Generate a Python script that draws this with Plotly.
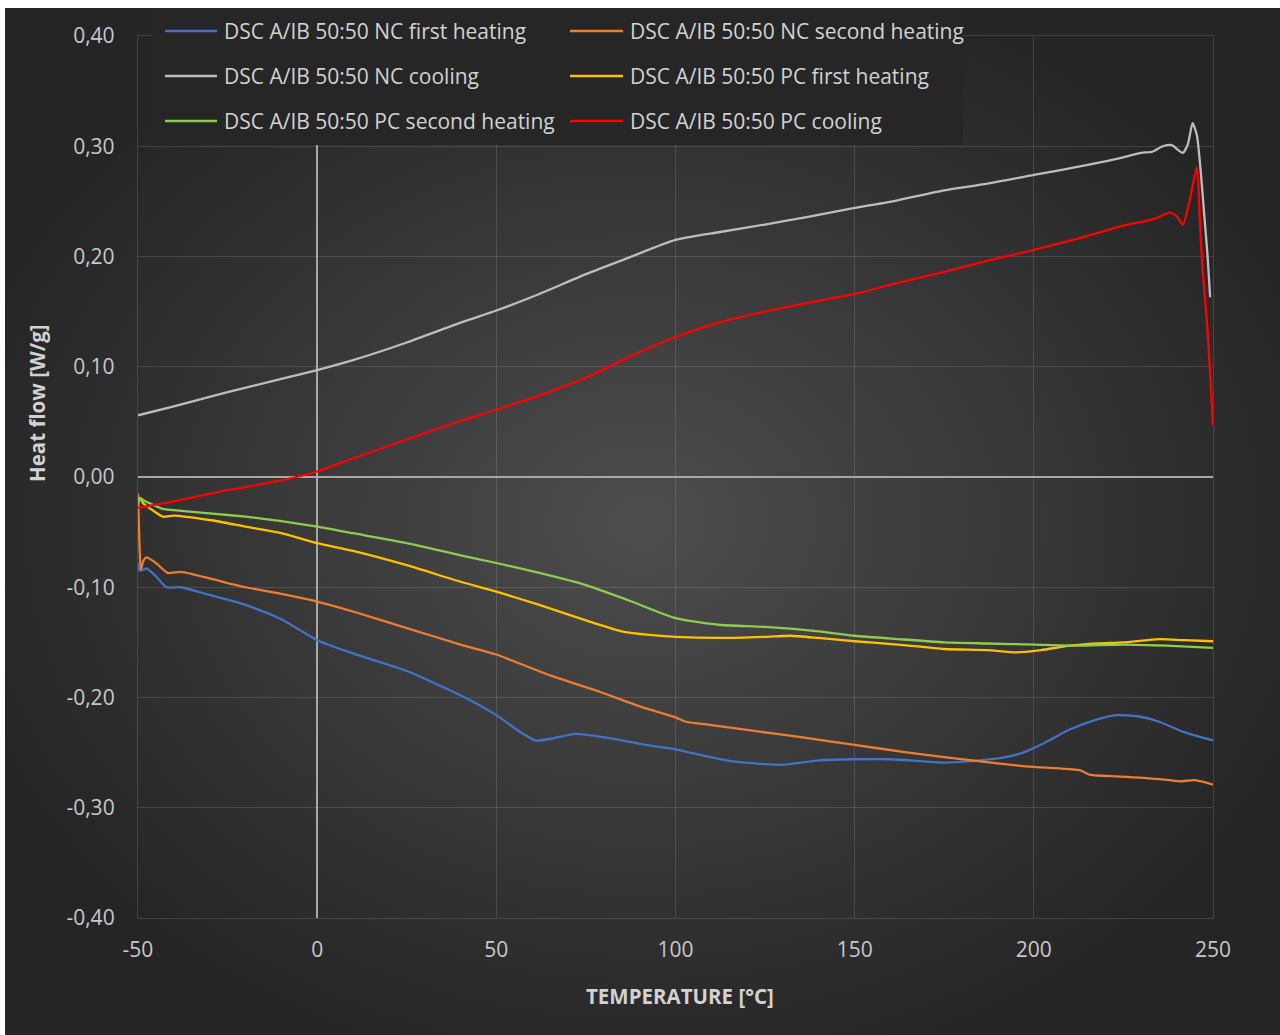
import base64
import plotly.graph_objects as go

# ---- DSC curves: temperature [°C] and heat flow [W/g] ----
nc_first_t = [-50, -49.5, -48.5, -47.5, -45, -42, -38, -30, -20, -10, 0, 10, 25, 40, 50, 57, 61, 66, 72, 80,
              90, 100, 108, 116, 130, 140, 150, 160, 175, 185, 190.5, 197, 202.5, 210, 217.5, 223, 229, 235,
              241.5, 250]
nc_first_v = [-0.078, -0.085, -0.084, -0.083, -0.090, -0.100, -0.100, -0.107, -0.116, -0.129, -0.148, -0.160,
              -0.176, -0.198, -0.216, -0.232, -0.239, -0.237, -0.233, -0.236, -0.242, -0.247, -0.253, -0.258,
              -0.261, -0.257, -0.256, -0.256, -0.259, -0.257, -0.255, -0.250, -0.242, -0.229, -0.220, -0.216,
              -0.217, -0.222, -0.231, -0.239]

nc_second_t = [-50, -49.6, -49.2, -48.5, -47.6, -45, -41.7, -38, -30, -20, -10, 0, 10, 25, 40, 50, 54, 65, 79,
               90, 100, 103, 110, 123.5, 135, 150, 165, 175, 190.5, 200, 210, 213, 215.6, 226, 235, 240.7, 245,
               250]
nc_second_v = [-0.015, -0.060, -0.084, -0.076, -0.073, -0.078, -0.087, -0.086, -0.092, -0.100, -0.106, -0.113,
               -0.122, -0.137, -0.152, -0.161, -0.166, -0.180, -0.195, -0.208, -0.218, -0.222, -0.225, -0.231,
               -0.236, -0.243, -0.250, -0.254, -0.260, -0.263, -0.265, -0.266, -0.270, -0.272, -0.274, -0.276,
               -0.275, -0.279]

nc_cool_t = [-50, -40, -25, -10, 0, 10, 25, 40, 50, 62, 75, 87, 100, 112, 125, 137, 150, 162, 175, 187, 200,
             215, 225, 230, 233, 236, 238.5, 240.5, 241.6, 243, 244.3, 245.5, 246.5, 247.5, 248.5, 249.2]
nc_cool_v = [0.056, 0.064, 0.077, 0.089, 0.097, 0.106, 0.122, 0.140, 0.151, 0.166, 0.184, 0.199, 0.215, 0.222,
             0.229, 0.236, 0.244, 0.251, 0.260, 0.266, 0.274, 0.283, 0.290, 0.294, 0.295, 0.300, 0.301, 0.296,
             0.294, 0.302, 0.321, 0.310, 0.280, 0.240, 0.200, 0.163]

pc_first_t = [-50, -49.5, -48.5, -46, -43, -40, -30, -20, -10, 0, 10, 25, 40, 50, 62, 75, 85, 92, 100, 112,
              125, 132, 140, 150, 162, 175, 187, 195, 202, 210, 218, 225, 235, 242, 250]
pc_first_v = [-0.021, -0.019, -0.024, -0.030, -0.036, -0.035, -0.039, -0.045, -0.051, -0.060, -0.067, -0.080,
              -0.095, -0.104, -0.116, -0.130, -0.140, -0.143, -0.145, -0.146, -0.145, -0.144, -0.146, -0.149,
              -0.152, -0.156, -0.157, -0.159, -0.157, -0.153, -0.151, -0.150, -0.147, -0.148, -0.149]

pc_second_t = [-50, -49.5, -48.5, -46, -43, -40, -30, -20, -10, 0, 10, 25, 40, 50, 62, 75, 87, 100, 112, 125,
               140, 150, 162, 175, 187, 200, 212, 225, 237, 250]
pc_second_v = [-0.025, -0.019, -0.021, -0.025, -0.029, -0.030, -0.033, -0.036, -0.040, -0.045, -0.051, -0.060,
               -0.071, -0.078, -0.087, -0.098, -0.112, -0.128, -0.134, -0.136, -0.140, -0.144, -0.147, -0.150,
               -0.151, -0.152, -0.153, -0.152, -0.153, -0.155]

pc_cool_t = [-50, -40, -25, -10, 0, 10, 25, 40, 50, 62, 75, 87, 100, 112, 125, 137, 150, 162, 175, 187, 200,
             212, 225, 232.3, 235.1, 238, 240, 241.6, 243.5, 245.5, 246.3, 247.1, 248.3, 249.2, 250]
pc_cool_v = [-0.028, -0.022, -0.012, -0.003, 0.005, 0.017, 0.034, 0.051, 0.061, 0.074, 0.090, 0.109, 0.127,
             0.140, 0.150, 0.158, 0.166, 0.176, 0.186, 0.196, 0.206, 0.216, 0.228, 0.233, 0.236, 0.240, 0.236,
             0.229, 0.251, 0.281, 0.235, 0.188, 0.141, 0.094, 0.047]

series_names = [
    "DSC A/IB 50:50 NC first heating",
    "DSC A/IB 50:50 NC second heating",
    "DSC A/IB 50:50 NC cooling",
    "DSC A/IB 50:50 PC first heating",
    "DSC A/IB 50:50 PC second heating",
    "DSC A/IB 50:50 PC cooling",
]
series_colors = ["#4472C4", "#ED7D31", "#BDBDBD", "#FFC000", "#8FCB4C", "#FF0000"]
series_data = [
    (nc_first_t, nc_first_v),
    (nc_second_t, nc_second_v),
    (nc_cool_t, nc_cool_v),
    (pc_first_t, pc_first_v),
    (pc_second_t, pc_second_v),
    (pc_cool_t, pc_cool_v),
]

x_tickvals = [-50, 0, 50, 100, 150, 200, 250]
x_ticktext = ["-50", "0", "50", "100", "150", "200", "250"]
y_tickvals = [-0.4, -0.3, -0.2, -0.1, 0.0, 0.1, 0.2, 0.3, 0.4]
y_ticktext = ["-0,40", "-0,30", "-0,20", "-0,10", "0,00", "0,10", "0,20", "0,30", "0,40"]

# ---- page geometry (pixels) ----
W, H = 1280, 1035
PL, PR, PT, PB = 138, 1213, 36, 918   # plot area edges


def px(x):
    return (x - PL) / (PR - PL)


def py(y):
    return (PB - y) / (PB - PT)


FONT = "Open Sans, DejaVu Sans, sans-serif"
TEXT = "#d2d2d2"

fig = go.Figure()
for name, color, (t, v) in zip(series_names, series_colors, series_data):
    fig.add_trace(go.Scatter(
        x=t, y=v, name=name, mode="lines",
        line=dict(color=color, width=2.3, shape="spline", smoothing=0.6),
        showlegend=False,
    ))

# dark radial-gradient chart background
svg = (
    '<svg xmlns="http://www.w3.org/2000/svg" width="1275" height="1027" viewBox="0 0 1275 1027" '
    'preserveAspectRatio="none"><defs><radialGradient id="g" cx="50%" cy="50%" r="55%">'
    '<stop offset="0" stop-color="#4d4d4d"/><stop offset="1" stop-color="#252525"/></radialGradient></defs>'
    '<rect width="1275" height="1027" fill="url(#g)"/></svg>'
)
bg_src = "data:image/svg+xml;base64," + base64.b64encode(svg.encode()).decode()
fig.add_layout_image(
    source=bg_src, xref="paper", yref="paper",
    x=px(5), y=py(8), sizex=(W - 5) / (PR - PL), sizey=(H - 8) / (PB - PT),
    xanchor="left", yanchor="top", sizing="stretch", layer="below",
)

# legend panel
shapes = [dict(type="rect", xref="paper", yref="paper", x0=px(153), x1=px(963), y0=py(145), y1=py(8),
               fillcolor="#262626", line=dict(width=0), layer="above")]
annotations = []
col_x = [(165, 217, 222), (570, 623, 628)]
row_y = [31, 76, 121]
for i, (name, color) in enumerate(zip(series_names, series_colors)):
    r, c = divmod(i, 2)
    lx0, lx1, tx = col_x[c]
    yy = row_y[r]
    shapes.append(dict(type="line", xref="paper", yref="paper", x0=px(lx0), x1=px(lx1), y0=py(yy), y1=py(yy),
                       line=dict(color=color, width=2.3), layer="above"))
    annotations.append(dict(text=name, xref="paper", yref="paper", x=px(tx), y=py(yy),
                            xanchor="left", yanchor="middle", showarrow=False,
                            font=dict(family=FONT, size=21, color=TEXT)))

# axis titles
annotations.append(dict(text="<b>Heat flow [W/g]</b>", xref="paper", yref="paper", x=px(37), y=py(403),
                        xanchor="center", yanchor="middle", textangle=-90, showarrow=False,
                        font=dict(family=FONT, size=20.5, color=TEXT)))
annotations.append(dict(text="<b>TEMPERATURE [°C]</b>", xref="paper", yref="paper", x=px(680), y=py(996),
                        xanchor="center", yanchor="middle", showarrow=False,
                        font=dict(family=FONT, size=20.5, color=TEXT)))

grid = "rgba(255,255,255,0.13)"
fig.update_layout(
    width=W, height=H, autosize=False,
    margin=dict(l=PL, r=W - PR, t=PT, b=H - PB, pad=0),
    paper_bgcolor="white", plot_bgcolor="rgba(0,0,0,0)",
    shapes=shapes, annotations=annotations, showlegend=False,
    xaxis=dict(range=[-50, 250], tickvals=x_tickvals, ticktext=x_ticktext, showgrid=True, gridcolor=grid,
               gridwidth=1.3, zeroline=True, zerolinecolor="#a8a8a8", zerolinewidth=1.6,
               showline=True, linecolor=grid, linewidth=1.3, mirror=True, ticks="outside", ticklen=0,
               ticklabelstandoff=13, tickfont=dict(family=FONT, size=21, color="#c8c8c8")),
    yaxis=dict(range=[-0.4, 0.4], tickvals=y_tickvals, ticktext=y_ticktext, showgrid=True, gridcolor=grid,
               gridwidth=1.3, zeroline=True, zerolinecolor="#a8a8a8", zerolinewidth=1.6,
               showline=True, linecolor=grid, linewidth=1.3, mirror=True, ticks="outside", ticklen=0,
               ticklabelstandoff=18, tickfont=dict(family=FONT, size=21, color="#c8c8c8")),
)

fig.write_html("out.html")
